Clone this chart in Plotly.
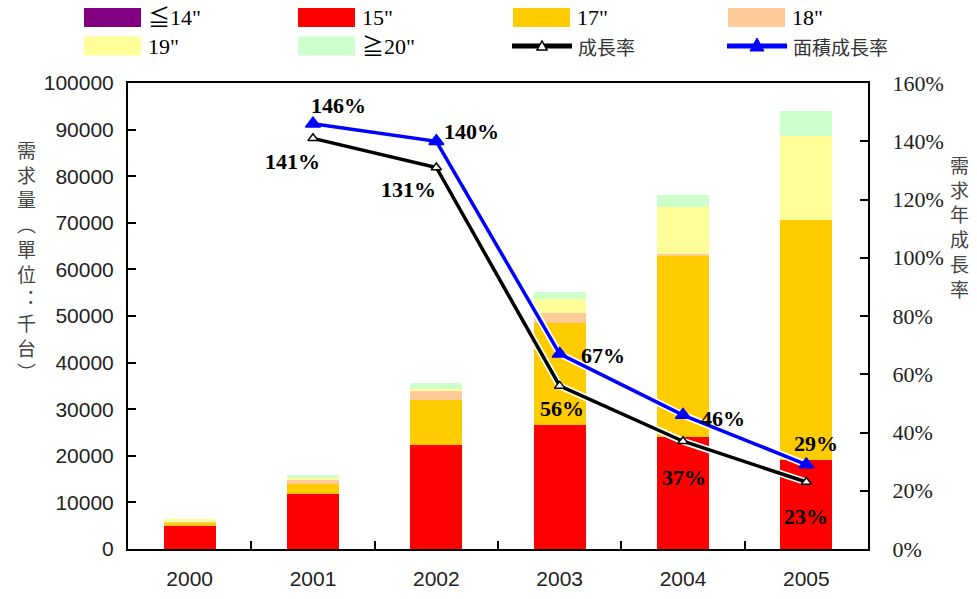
import plotly.graph_objects as go

# Demand by panel size (thousand units)
years = ["2000", "2001", "2002", "2003", "2004", "2005"]
size_le14 = [0, 0, 0, 0, 0, 0]
size_15 = [5000, 11800, 22400, 26600, 24000, 19200]
size_17 = [700, 2100, 9600, 21800, 38900, 51400]
size_18 = [300, 1100, 2000, 2200, 400, 0]
size_19 = [400, 200, 400, 3000, 10000, 18000]
size_ge20 = [0, 600, 1300, 1600, 2700, 5400]

# Year-on-year growth rates
growth = [None, 1.41, 1.31, 0.56, 0.37, 0.23]
area_growth = [None, 1.46, 1.40, 0.67, 0.46, 0.29]

series_names = ["≦14\"", "15\"", "17\"", "18\"", "19\"", "≧20\""]
series_values = [size_le14, size_15, size_17, size_18, size_19, size_ge20]
series_colors = ["#800080", "#FF0000", "#FFCC00", "#FFCC99", "#FFFF99", "#CCFFCC"]

xpos = list(range(len(years)))

W, H = 977, 599
L, R, T, B = 128, 109, 83, 50
PW, PH = W - L - R, H - T - B

SERIF = "Liberation Serif, Noto Sans CJK TC, serif"
SANS = "Liberation Sans, Arial, sans-serif"
CJK = "Noto Sans CJK TC, sans-serif"


def px(x):
    return (x - L) / PW


def py(y):
    return (H - B - y) / PH


fig = go.Figure()

for name, vals, col in zip(series_names, series_values, series_colors):
    fig.add_trace(go.Bar(x=xpos, y=vals, name=name, marker_color=col,
                         marker_line_width=0, width=0.42, showlegend=False))

# growth lines with a thin white halo underneath
for vals, col, msize, mfill in [
    (growth, "black", 9, "white"),
    (area_growth, "#0000FF", 13, "#0000FF"),
]:
    fig.add_trace(go.Scatter(x=xpos, y=vals, yaxis="y2", mode="lines",
                             line=dict(color="white", width=7),
                             showlegend=False, hoverinfo="skip"))
    fig.add_trace(go.Scatter(x=xpos, y=vals, yaxis="y2", mode="lines+markers",
                             line=dict(color=col, width=3.5),
                             marker=dict(symbol="triangle-up", size=msize, color=mfill,
                                         line=dict(color=col, width=1.5)),
                             showlegend=False))

annotations = []
# value labels: (dx, dy) pixel offsets from each point
black_off = [None, (-21, -23), (-28, -22), (2, -23), (1, -36), (0, -34)]
blue_off = [None, (25, 18), (35, 10), (43, -2), (40, -3), (10, 21)]
for vals, offs in [(growth, black_off), (area_growth, blue_off)]:
    for xi, v, off in zip(xpos, vals, offs):
        if v is None:
            continue
        annotations.append(dict(
            x=xi, y=v, xref="x", yref="y2", text=f"{round(v * 100)}%",
            showarrow=False, xshift=off[0], yshift=off[1],
            xanchor="center", yanchor="middle",
            font=dict(family=SERIF, size=22, color="black", weight="bold")))

# vertical axis titles
left_title = "需<br>求<br>量<br>︵<br>單<br>位<br>︓<br>千<br>台<br>︶"
right_title = "需<br>求<br>年<br>成<br>長<br>率"
annotations.append(dict(x=px(26), y=py(260), xref="paper", yref="paper",
                        text=left_title, showarrow=False,
                        xanchor="center", yanchor="middle",
                        font=dict(family=CJK, size=19, color="#444444")))
annotations.append(dict(x=px(959), y=py(226), xref="paper", yref="paper",
                        text=right_title, showarrow=False,
                        xanchor="center", yanchor="middle",
                        font=dict(family=CJK, size=19, color="#444444")))

# legend drawn as shapes + text
shapes = []
col_x = [84, 298, 513, 728]
row_y = [17.5, 46]
legend_items = [(series_names[i], series_colors[i], "box") for i in range(6)]
legend_items.append(("成長率", "black", "line"))
legend_items.append(("面積成長率", "#0000FF", "line"))
for i, (lab, col, kind) in enumerate(legend_items):
    cx = col_x[i % 4]
    cy = row_y[i // 4]
    if kind == "box":
        shapes.append(dict(type="rect", xref="paper", yref="paper",
                           x0=px(cx), x1=px(cx + 57), y0=py(cy - 9.5), y1=py(cy + 9.5),
                           fillcolor=col, line=dict(width=0), layer="above"))
        tx = cx + 62
        tfont = dict(family=SERIF, size=22, color="black")
    else:
        shapes.append(dict(type="line", xref="paper", yref="paper",
                           x0=px(cx - 1), x1=px(cx + 59), y0=py(cy), y1=py(cy),
                           line=dict(color=col, width=5), layer="above"))
        if col == "black":
            tri = "M-5,-4 L5,-4 L0,5 Z"
            fill, lw = "white", 1.5
        else:
            tri = "M-7,-5 L7,-5 L0,8 Z"
            fill, lw = col, 1
        shapes.append(dict(type="path", xref="paper", yref="paper",
                           xsizemode="pixel", ysizemode="pixel",
                           xanchor=px(cx + 29), yanchor=py(cy), path=tri,
                           fillcolor=fill, line=dict(color=col, width=lw),
                           layer="above"))
        tx = cx + 63
        tfont = dict(family=CJK, size=19, color="#333333")
    annotations.append(dict(x=px(tx), y=py(cy), xref="paper", yref="paper",
                            text=lab, showarrow=False, xanchor="left",
                            yanchor="middle", font=tfont))

fig.update_layout(
    width=W, height=H, autosize=False,
    margin=dict(l=L, r=R, t=T, b=B, pad=0),
    paper_bgcolor="white", plot_bgcolor="white",
    barmode="stack",
    showlegend=False,
    xaxis=dict(range=[-0.5, len(years) - 0.5], tickvals=xpos, ticktext=years,
               showline=True, linecolor="black", linewidth=2, mirror=True,
               ticks="", showgrid=False, zeroline=False, automargin=False,
               tickfont=dict(family=SANS, size=21, color="#222222"),
               ticklabelstandoff=10,
               minor=dict(tickvals=[i + 0.5 for i in xpos[:-1]], ticks="inside",
                          ticklen=8, tickwidth=2, tickcolor="black", showgrid=False)),
    yaxis=dict(range=[0, 100000], dtick=10000, tickformat="d", showline=True,
               linecolor="black", linewidth=2, ticks="inside", ticklen=8,
               tickwidth=2, tickcolor="black", showgrid=False, zeroline=False,
               automargin=False,
               tickfont=dict(family=SANS, size=21, color="#222222"),
               ticklabelstandoff=8),
    yaxis2=dict(range=[0, 1.6], dtick=0.2, tickformat=".0%", overlaying="y",
                side="right", showline=True, linecolor="black", linewidth=2,
                ticks="inside", ticklen=8, tickwidth=2, tickcolor="black",
                showgrid=False, zeroline=False, automargin=False,
                tickfont=dict(family=SERIF, size=22, color="#222222"),
                ticklabelstandoff=18),
    annotations=annotations,
    shapes=shapes,
)

fig.write_html("out.html")
